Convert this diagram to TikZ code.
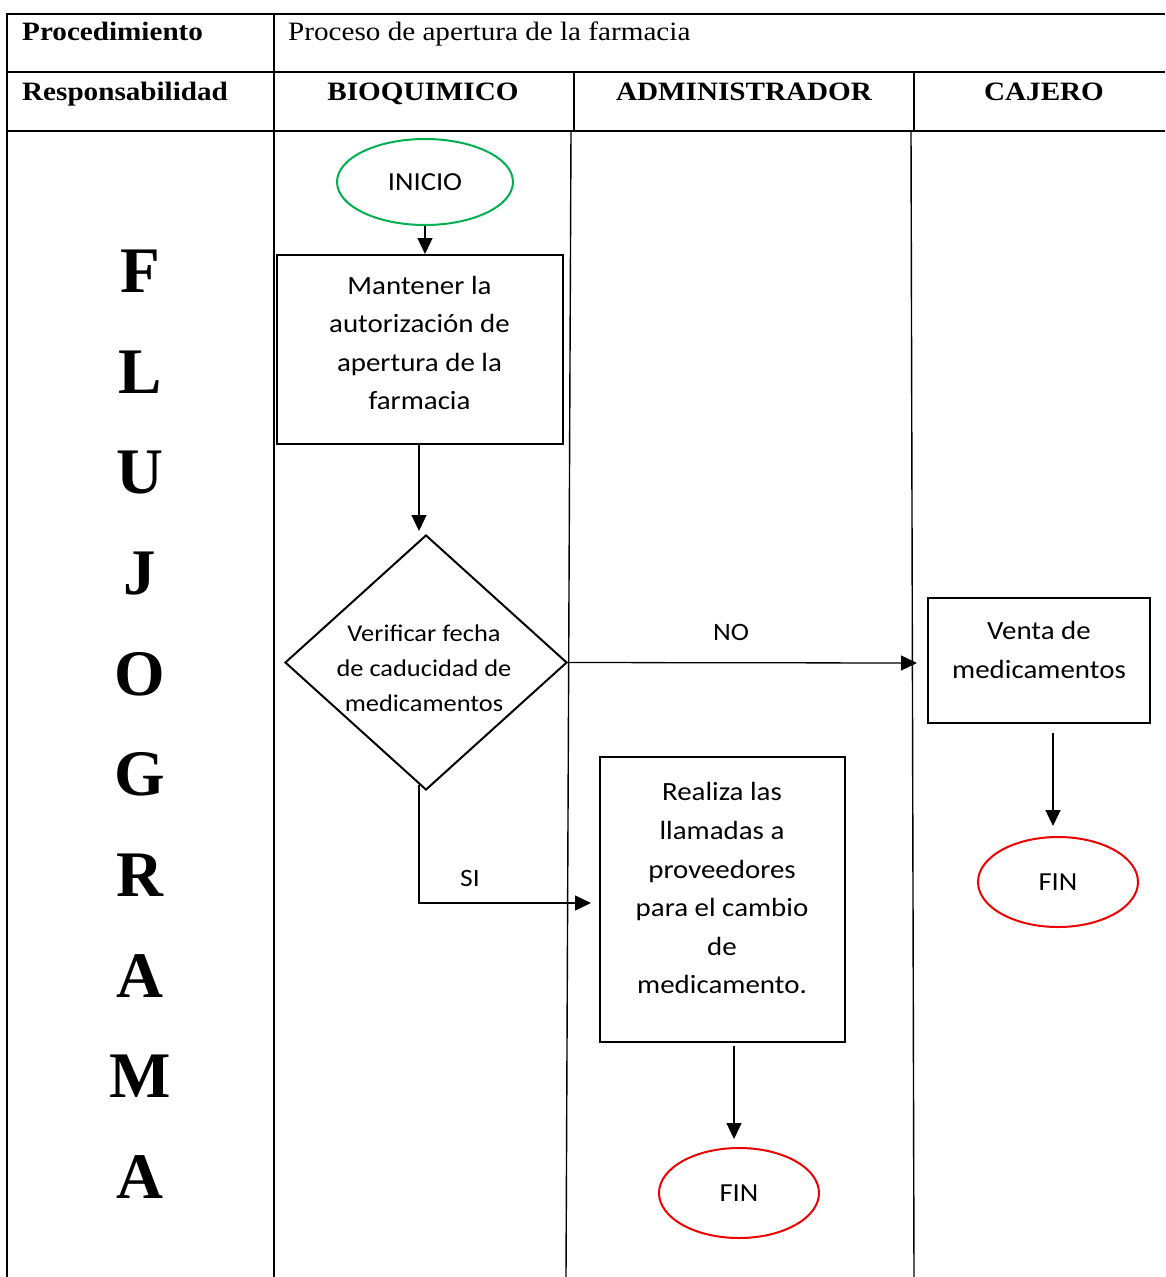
\documentclass[tikz,border=0pt]{standalone}
\usepackage{fontspec}
\usetikzlibrary{shapes.geometric,arrows.meta,calc}
\newfontfamily\tnr{Liberation Serif}[FakeStretch=1.1]
\newfontfamily\tnrbig{Liberation Serif}
\newfontfamily\calib{Carlito}[FakeStretch=1.1]
\definecolor{ingreen}{HTML}{00B050}
\definecolor{finred}{HTML}{EE0000}
\begin{document}
\begin{tikzpicture}[x=1pt,y=-1pt,
  tbl/.style={line width=2.3pt},
  lane/.style={line width=1.4pt},
  hdr/.style={font=\tnr\bfseries\fontsize{26.5}{30}\selectfont, inner sep=0, anchor=base},
  hdrreg/.style={font=\tnr\fontsize{26.5}{30}\selectfont, inner sep=0, anchor=base west},
  big/.style={font=\tnrbig\bfseries\fontsize{65}{70}\selectfont, inner sep=0, anchor=base},
  boxst/.style={draw, line width=2pt, inner sep=0, fill=none},
  txt/.style={font=\calib\fontsize{26.3}{38.6}\selectfont, align=center, inner sep=0},
  dtxt/.style={font=\calib\fontsize{24}{35}\selectfont, align=center, inner sep=0},
  lbl/.style={font=\calib\fontsize{25}{30}\selectfont, inner sep=0},
  startst/.style={ellipse, draw=ingreen, line width=2pt, inner sep=0, font=\calib\fontsize{26}{30}\selectfont},
  endst/.style={ellipse, draw=finred, line width=2pt, inner sep=0, font=\calib\fontsize{26}{30}\selectfont},
  conn/.style={line width=1.3pt, -{Triangle[length=16pt,width=15pt]}}
]
\useasboundingbox (0,0) rectangle (1165,1277);

% table frame
\draw[tbl] (1165,14) -- (7,14) -- (7,1277);
\draw[tbl] (7,72) -- (1165,72);
\draw[tbl] (7,131) -- (1165,131);
\draw[tbl] (274,14) -- (274,1277);
\draw[tbl] (574,72) -- (574,131);
\draw[tbl] (914,72) -- (914,131);
% lane lines
\draw[lane] (571,131) -- (566,1277);
\draw[lane] (911,131) -- (914,1277);

% header texts
\node[hdr, anchor=base west] (hproc) at (22,40.5) {Procedimiento};
\node[hdrreg] (hproct) at (288,40.5) {Proceso de apertura de la farmacia};
\node[hdr, anchor=base west] (hresp) at (22,100.5) {Responsabilidad};
\node[hdr] (hbio) at (423,100.5) {BIOQUIMICO};
\node[hdr] (hadm) at (744,100.5) {ADMINISTRADOR};
\node[hdr] (hcaj) at (1044,100.5) {CAJERO};

% vertical word
\node[big] (l1) at (140,292.5) {F};
\node[big] (l2) at (140,393.2) {L};
\node[big] (l3) at (140,493.8) {U};
\node[big] (l4) at (140,594.5) {J};
\node[big] (l5) at (140,695.2) {O};
\node[big] (l6) at (140,795.8) {G};
\node[big] (l7) at (140,896.5) {R};
\node[big] (l8) at (140,997.2) {A};
\node[big] (l9) at (140,1097.8) {M};
\node[big] (l10) at (140,1198.5) {A};

% flow shapes
\node[startst, minimum width=176, minimum height=86] (ini) at (425,182) {INICIO};
\node[boxst, minimum width=286, minimum height=189] (b1) at (420,349.5) {};
\node[txt] (b1t) at (419.5,343) {Mantener la\\autorización de\\apertura de la\\farmacia};
\node[diamond, draw, line width=2pt, inner sep=0, minimum width=282, minimum height=255] (dia) at (426,662.5) {};
\node[dtxt] (diat) at (424,668) {Verificar fecha\\de caducidad de\\medicamentos};
\node[boxst, minimum width=222, minimum height=125] (venta) at (1039,660.5) {};
\node[txt] (ventat) at (1039,649.7) {Venta de\\medicamentos};
\node[boxst, minimum width=245, minimum height=285] (b2) at (722.5,899.5) {};
\node[txt] (b2t) at (722,888.4) {Realiza las\\llamadas a\\proveedores\\para el cambio\\de\\medicamento.};
\node[endst, minimum width=160, minimum height=90] (fin1) at (739,1193) {FIN};
\node[endst, minimum width=160, minimum height=90] (fin2) at (1058,882) {FIN};

% labels
\node[lbl] (no) at (731,632) {NO};
\node[lbl] (si) at (470,878) {SI};

% connectors
\coordinate (sistart) at (419,785);
\coordinate (siend) at (591,903);
\coordinate (noend) at (917,663);
\coordinate (b2out) at (734,1046);
\coordinate (fin1in) at (734,1139);
\coordinate (vout) at (1053,733);
\coordinate (fin2in) at (1053,826);
\draw[conn] (ini.south) -- (ini.south |- b1.north);
\draw[conn] (b1.south -| 419,0) -- (419,531);
\draw[conn] (dia.east) -- (noend);
\draw[conn] (sistart) |- (siend);
\draw[conn] (b2out) -- (fin1in);
\draw[conn] (vout) -- (fin2in);
\end{tikzpicture}
\end{document}
